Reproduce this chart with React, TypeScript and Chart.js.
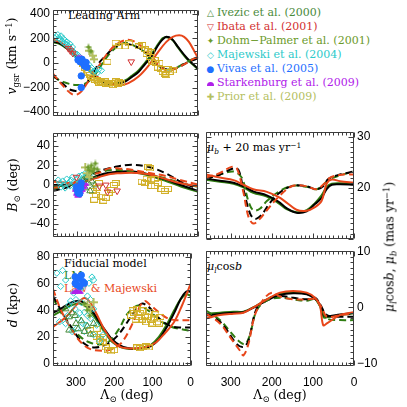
import React, { useEffect, useRef } from "react";
import { Chart, registerables } from "chart.js";
Chart.register(...registerables);

type P = [number, number][];

// ---------------- Panel: v_gsr (km/s) vs Lambda ----------------
const vBlackSolid: P = [[360,175],[343,160],[327,125],[310,80],[294,30],[278,-30],[262,-85],[246,-130],[229,-162],[213,-172],[197,-168],[180,-150],[165,-115],[148,-73],[132,-10],[116,50],[104,120],[95,165],[87,195],[79,213],[65,195],[51,135],[27,37],[0,-48]];
const vGreenSolid: P = [[360,170],[343,155],[327,120],[310,75],[294,25],[278,-35],[262,-90],[246,-135],[229,-165],[213,-170],[197,-160],[180,-140],[165,-105],[148,-60],[132,0],[116,70],[104,130],[95,175],[87,205],[75,208],[63,185],[51,130],[27,30],[0,-52]];
const vRedSolid: P = [[360,189],[343,172],[327,135],[310,86],[294,37],[278,-24],[262,-73],[246,-122],[229,-154],[213,-172],[197,-184],[173,-164],[148,-110],[124,-25],[100,86],[79,172],[63,213],[47,225],[35,213],[23,172],[10,98],[0,37]];
const vBlackDashed: P = [[360,-98],[335,-172],[315,-220],[294,-220],[270,-135],[246,0],[229,61],[205,135],[185,159],[165,147],[140,110],[120,49],[100,-24],[83,-49],[63,-49],[43,-24],[23,12],[0,37]];
const vRedDashed: P = [[360,-86],[339,-172],[311,-257],[294,-245],[274,-159],[254,-61],[229,61],[205,147],[177,189],[156,172],[132,110],[112,37],[92,-37],[75,-61],[59,-49],[35,-12],[10,37],[0,49]];
const vGreenDashed: P = [[360,-110],[335,-154],[302,-179],[278,-164],[254,-86],[229,37],[205,123],[181,164],[156,135],[132,86],[108,0],[83,-49],[63,-49],[39,-12],[10,37],[0,45]];

const vMajewski: P = [[355,200],[352,215],[348,230],[345,205],[342,190],[340,220],[337,175],[335,200],[332,160],[330,185],[327,150],[325,170],[322,140],[320,125],[318,155],[315,110],[312,130],[310,95],[306,80],[303,60],[300,70],[297,40],[294,50],[290,20],[286,0],[283,15],[280,-20],[276,-30],[272,-10],[268,-50],[264,-40],[260,-70],[255,-60],[250,-80],[246,-50],[240,-60]];
const vIbata: P = [[322,120],[317,100],[311,80],[166,10]];
const vDohm: P = [[272,130],[266,95]];
const vPrior: P = [[270,100],[262,60],[258,30]];
const vVivas: P = [[298,25],[293,10],[288,30],[285,-5],[282,-25],[278,5],[276,-35],[290,-105],[290,-200]];
const vStark: P = [[296,35],[294,45],[290,28]];
const vSquares: P = [[285,-10],[280,-40],[276,-60],[272,-80],[268,-95],[265,-110],[260,-120],[256,-135],[252,-140],[248,-150],[245,-160],[240,-155],[236,-165],[232,-150],[228,-170],[224,-160],[220,-175],[216,-165],[212,-180],[208,-160],[204,-150],[200,-170],[196,-155],[192,-165],[225,10],[205,165],[197,135],[182,135],[171,160],[148,135],[139,147],[132,110],[128,74],[124,98],[120,49],[116,86],[114,12],[108,25],[104,0],[100,-37],[96,0],[92,-49],[88,-73],[83,-86],[79,-98],[75,-49],[71,-73],[63,-61]];

// ---------------- Panel: B (deg) ----------------
const bBlackSolid: P = [[360,0],[330,0],[302,2],[270,6],[246,10],[221,12.5],[197,13.5],[165,14],[124,11],[83,6],[43,0],[0,-6]];
const bGreenSolid: P = [[360,-1],[330,-1],[302,1],[270,5],[246,9],[221,11.5],[197,12.5],[165,13],[124,10],[83,4.5],[43,-1.5],[0,-7]];
const bRedSolid: P = [[360,3.4],[330,2.5],[302,1.8],[270,5],[246,8],[221,11],[197,12],[165,12.5],[124,11],[83,6.4],[43,1.8],[0,-1.2]];
const bBlackDashed: P = [[360,-6],[330,-3],[302,1],[275,8],[246,14],[205,18.6],[165,20.7],[124,18.6],[83,12.5],[43,3.3],[0,-4]];
const bRedDashed: P = [[360,-3],[330,-1],[300,4],[270,10],[246,12.5],[221,17],[197,17],[165,15.5],[124,12.5],[83,9.4],[43,4.9],[0,0.3]];
const bGreenDashed: P = [[360,-4],[330,-1],[300,4],[270,10],[245,13],[221,15],[197,15.3],[165,14],[124,11],[83,7],[43,2],[0,-2]];

const bMajewski: P = [[347,5],[343,2],[340,-2],[336,4],[333,0],[330,-3],[326,6],[322,2],[318,-1],[315,5],[312,8],[308,3],[304,-4],[300,6],[296,9],[292,4],[288,10],[284,7],[280,12],[276,9],[272,14],[268,11]];
const bVivas: P = [[302,-2],[300,-5],[298,-8],[296,-4],[294,-9],[291,-3],[290,2]];
const bStark: P = [[304,-6],[301,-10],[298,-12],[295,-10],[292,-8],[288,-6],[284,-3],[280,0]];
const bDohm: P = [[273,18],[270,15],[265,20],[262,14],[258,17],[255,22],[250,16]];
const bIvezic: P = [[285,5],[280,-3],[276,8],[272,2],[268,-6],[264,4],[260,10],[256,0]];
const bPrior: P = [[280,18],[275,12],[270,8],[266,15]];
const bIbata: P = [[302,8],[245,-1],[229,0],[225,-7],[201,-6]];
const bSquares: P = [[262,-6],[258,-15],[254,-10],[250,-3],[246,2],[240,-12],[235,-16],[229,-13],[222,-8],[215,-5],[209,0],[205,2],[140,3.5],[132,2],[124,18.6],[120,17],[116,5],[128,6.4],[108,6],[100,2],[108,-1],[91,-4],[83,-6],[75,-4],[116,-1]];

// ---------------- Panel: d (kpc) ----------------
const dBlackSolid: P = [[360,38],[335,42],[310,46],[290,47],[270,44],[254,38],[238,31],[221,24],[205,18],[185,13.5],[165,11.5],[144,11],[124,11.5],[104,13],[83,18],[63,27],[43,38],[27,48],[12,54],[0,54]];
const dGreenSolid: P = [[360,36],[335,40],[310,44],[290,45],[270,42],[254,36],[238,29],[221,22],[205,16],[185,12.5],[165,11],[144,11],[124,12],[104,14],[83,20],[63,29],[43,40],[27,48],[12,52],[0,51]];
const dRedSolid: P = [[360,27.4],[327,34.7],[294,45.6],[278,49.2],[262,45.6],[246,37.2],[225,25.1],[205,16.7],[185,12.4],[165,11.4],[140,11.4],[117,12.4],[92,15.5],[67,22.8],[43,31.3],[23,43.4],[0,60]];
const dBlackDashed: P = [[360,50.7],[335,38],[310,26.3],[286,16.7],[262,12.4],[238,12.4],[213,15.5],[189,21.6],[165,31.3],[145,40],[128,45],[112,43],[95,38],[75,32],[51,28],[27,27],[0,27]];
const dRedDashed: P = [[360,56],[339,40],[310,25],[286,15.5],[262,10.7],[229,9.5],[205,10.7],[181,15.5],[156,27.6],[132,43.4],[120,47],[108,44.6],[83,38.5],[59,33.7],[35,32.5],[0,32.5]];
const dGreenDashed: P = [[360,49],[335,36.4],[310,26.7],[286,19.4],[262,15.5],[238,14.3],[213,16.7],[189,25.2],[165,37.4],[140,43.4],[124,42.2],[100,37.4],[75,31.3],[51,27.6],[27,25.9],[0,24.5]];

const dMajewski: P = [[335,70],[327,62.8],[258,65],[254,62.8],[343,31.3],[327,30],[302,41],[294,33.7],[286,45.8],[278,38.5],[274,28.8],[270,50.7],[262,33.7],[254,41],[246,28.8],[238,16.7],[229,21.6],[306,53],[314,47],[290,55.5],[282,58],[298,26.4],[310,24],[266,60.4],[278,24],[254,21.6],[318,44],[322,36],[300,48],[290,38],[282,30],[270,36],[262,48],[350,68],[340,58]];
const dVivas: P = [[302,65.2],[294,64],[286,66.4],[282,61.6],[298,59.2],[302,60.4],[290,57.9],[278,60.4]];
const dStark: P = [[298,54.3],[290,53.1],[304,53]];
const dIvezic: P = [[327,41],[318,35],[310,38],[300,30],[294,26],[286,32],[278,24],[270,28],[262,22],[254,30],[318,25],[302,36]];
const dDohm: P = [[278,45],[270,40],[264,36]];
const dPrior: P = [[262,41],[254,46],[270,44]];
const dSquares: P = [[262,25],[254,22],[246,20],[238,17],[230,15],[222,12],[215,10],[208,9],[200,10],[246,26],[236,18],[228,20],[140,12],[132,11.5],[124,12.5],[116,13],[110,12],[156,36],[152,40],[148,38],[144,33],[140,41],[136,35],[132,38],[128,33],[124,40],[120,36],[116,31],[112,35],[108,39],[104,33],[100,30],[96,34],[92,37],[88,31],[83,30],[79,35]];

// ---------------- Panel: mu_b + 20 ----------------
const mbBlackSolid: P = [[360,21.8],[326,21.4],[293,21],[269,20.3],[245,19.3],[212,18.5],[184,17.3],[164,16],[140,15.1],[115,15.4],[95,16.8],[79,18],[66,19.8],[54,20.6],[34,20.7],[0,20.6]];
const mbGreenSolid: P = [[360,21.6],[326,21.2],[293,20.8],[269,20.1],[245,19],[212,18.3],[184,17],[164,15.8],[140,15.2],[115,15.6],[95,17],[79,18.5],[66,20.2],[54,20.8],[34,20.9],[0,20.8]];
const mbRedSolid: P = [[360,22.6],[326,22],[293,21.5],[269,20.6],[245,19.7],[212,19.2],[184,18.2],[164,17.1],[140,15.7],[115,15.5],[95,16.2],[79,17.4],[66,20.9],[54,21.6],[34,21.3],[0,21]];
const mbBlackDashed: P = [[360,21.75],[326,22.6],[293,23.8],[281,23.5],[269,19.7],[253,15],[241,13.9],[225,14.7],[204,17.1],[180,19.1],[148,20.4],[115,20.3],[91,19.7],[75,20.3],[62,21.75],[34,22.6],[0,23.2]];
const mbRedDashed: P = [[360,22],[326,22.9],[298,24.1],[285,23.8],[269,19.1],[257,14.4],[245,13],[229,13.9],[212,15.6],[180,18.5],[148,20.4],[115,20.3],[91,19.7],[75,20.6],[58,22],[26,22.6],[0,22.6]];
const mbGreenDashed: P = [[360,21.75],[326,22.6],[293,23.2],[273,22],[257,17.4],[245,15.6],[229,15.9],[212,17.4],[180,19.4],[148,20.4],[115,20.2],[91,19.7],[75,20.6],[50,22],[0,23.2]];

// ---------------- Panel: mu_l cos b ----------------
const mlBlackSolid: P = [[360,-1.5],[326,-1.2],[293,-1],[269,-0.9],[237,0.2],[212,1.2],[180,2.2],[148,2.5],[115,2.3],[95,1.5],[83,0.5],[74,-1.5],[66,-1.6],[34,-1.3],[0,-1]];
const mlGreenSolid: P = [[360,-1.2],[326,-1],[293,-0.8],[269,-0.8],[237,0.3],[212,1.4],[180,2.4],[148,2.7],[115,2.4],[95,1.5],[83,0.3],[74,-1.8],[66,-1.8],[34,-1.4],[0,-1.1]];
const mlRedSolid: P = [[360,-2],[326,-1.4],[293,-1.15],[269,-1],[237,0.3],[212,1.4],[180,2.6],[148,2.9],[115,2.6],[95,1.7],[83,0.3],[75,-3.2],[66,-2.9],[34,-1.4],[0,-0.9]];
const mlBlackDashed: P = [[360,-1.15],[326,-2.6],[310,-4],[285,-6.6],[269,-7.1],[257,-6],[237,-0.3],[212,1.4],[180,2],[148,1.7],[115,1.4],[95,1.7],[83,0.6],[66,-1.4],[34,-1.7],[0,-1.7]];
const mlRedDashed: P = [[360,-1.15],[326,-2.9],[298,-5.7],[277,-7.8],[269,-8.6],[257,-6.6],[241,-1.4],[220,1.4],[200,2.6],[180,1.9],[148,1.4],[115,1.4],[95,1.4],[79,0],[66,-1.7],[34,-1.4],[0,-1.15]];
const mlGreenDashed: P = [[360,-0.6],[326,-2.3],[302,-4.3],[281,-6],[265,-6.6],[253,-4.9],[237,-0.6],[212,1.2],[180,1.7],[148,1.4],[115,1.15],[95,1.4],[79,-0.3],[66,-2],[34,-2.3],[0,-2.3]];

// ---------------- Axis ticks ----------------
const lambdaRange = [0, 360];
const lambdaTickStep = 100;

const BLACK = "#000000";
const GREEN = "#2f7d12";
const RED = "#e8461a";
const C_IVEZIC = "#4a8a3a";
const C_IBATA = "#d23030";
const C_DOHM = "#6b9a2a";
const C_MAJ = "#2ccaca";
const C_VIVAS = "#1f6fff";
const C_STARK = "#b020ea";
const C_PRIOR = "#b4c060";
const C_SQ = "#d2b028";

const fmt = (v: any) => {
  const n = Number(v);
  return n < 0 ? "\u2212" + Math.abs(n) : String(n);
};

const idlFrame = {
  id: "idlFrame",
  afterDatasetsDraw(chart: any, _args: any, o: any) {
    const { ctx, chartArea: a } = chart;
    const xs = chart.scales.x;
    const ys = chart.scales.y;
    const L = Math.round(a.left) + 0.5;
    const R = Math.round(a.right) - 0.5;
    const T = Math.round(a.top) + 0.5;
    const B = Math.round(a.bottom) - 0.5;
    ctx.save();
    ctx.strokeStyle = "#3c3c3c";
    ctx.lineWidth = 1;
    ctx.beginPath();
    ctx.rect(L, T, R - L, B - T);
    const isMajor = (v: number, m: number) => Math.abs(v / m - Math.round(v / m)) < 1e-6;
    const k0x = Math.ceil(xs.min / o.xMinor - 1e-9);
    const k1x = Math.floor(xs.max / o.xMinor + 1e-9);
    for (let k = k0x; k <= k1x; k++) {
      const v = k * o.xMinor;
      const px = Math.round(xs.getPixelForValue(v)) + 0.5;
      const len = isMajor(v, o.xMajor) ? 5 : 3;
      ctx.moveTo(px, B); ctx.lineTo(px, B - len);
      ctx.moveTo(px, T); ctx.lineTo(px, T + len);
    }
    const k0y = Math.ceil(ys.min / o.yMinor - 1e-9);
    const k1y = Math.floor(ys.max / o.yMinor + 1e-9);
    for (let k = k0y; k <= k1y; k++) {
      const v = k * o.yMinor;
      const py = Math.round(ys.getPixelForValue(v)) + 0.5;
      const len = isMajor(v, o.yMajor) ? 5 : 3;
      ctx.moveTo(L, py); ctx.lineTo(L + len, py);
      ctx.moveTo(R, py); ctx.lineTo(R - len, py);
    }
    ctx.stroke();
    ctx.restore();
  },
};

function toXY(p: P) {
  return p.map(([x, y]) => ({ x, y }));
}

function curve(p: P, color: string, dashed: boolean) {
  return {
    data: toXY(p),
    showLine: true,
    borderColor: color,
    backgroundColor: color,
    borderWidth: 2,
    borderDash: dashed ? [7, 4] : [],
    pointRadius: 0,
    pointHoverRadius: 0,
    tension: 0.35,
    fill: false,
  };
}

function marks(p: P, style: any, color: string, filled: boolean, radius = 3.5, rotation = 0) {
  return {
    data: toXY(p),
    showLine: false,
    pointStyle: style,
    pointRadius: radius,
    pointHoverRadius: radius,
    pointRotation: rotation,
    borderColor: color,
    backgroundColor: filled ? color : "rgba(0,0,0,0)",
    borderWidth: 1,
  };
}

function mkCanvas(w: number, h: number, draw: (g: CanvasRenderingContext2D) => void) {
  const c = document.createElement("canvas");
  c.width = w;
  c.height = h;
  const g = c.getContext("2d")!;
  draw(g);
  return c;
}

type Spec = {
  left: number; top: number; width: number; height: number;
  pad: { top: number; right: number; bottom: number; left: number };
  xLabels: boolean; xAxisH: number;
  yPos: "left" | "right"; yMin: number; yMax: number; yStep: number; yMinor: number;
  hide?: number[];
  datasets: any[];
};

function Panel({ spec }: { spec: Spec }) {
  const ref = useRef<HTMLCanvasElement>(null);
  useEffect(() => {
    const cv = ref.current!;
    const tickFont = { family: "'Liberation Sans', Arial, sans-serif", size: 12 };
    const chart = new Chart(cv, {
      type: "scatter",
      data: { datasets: spec.datasets },
      options: {
        responsive: false,
        animation: false,
        devicePixelRatio: 1,
        events: [],
        layout: { padding: spec.pad },
        plugins: {
          legend: { display: false },
          tooltip: { enabled: false },
          idlFrame: { xMinor: 10, xMajor: lambdaTickStep, yMinor: spec.yMinor, yMajor: spec.yStep },
        } as any,
        scales: {
          x: {
            type: "linear",
            min: lambdaRange[0],
            max: lambdaRange[1],
            reverse: true,
            display: spec.xLabels,
            grid: { display: false, drawTicks: false },
            border: { display: false },
            ticks: {
              stepSize: lambdaTickStep,
              includeBounds: false,
              autoSkip: false,
              maxRotation: 0,
              padding: 9,
              color: "#000",
              font: tickFont,
              callback: fmt,
            },
            afterFit: (s: any) => { s.height = spec.xAxisH; },
          },
          y: {
            type: "linear",
            position: spec.yPos,
            min: spec.yMin,
            max: spec.yMax,
            grid: { display: false, drawTicks: false },
            border: { display: false },
            ticks: {
              stepSize: spec.yStep,
              includeBounds: false,
              autoSkip: false,
              padding: 3,
              color: "#000",
              font: tickFont,
              callback: (v: any) => (spec.hide && spec.hide.includes(Number(v)) ? "" : fmt(v)),
            },
            afterFit: (s: any) => { s.width = 53; },
          },
        } as any,
      },
      plugins: [idlFrame as any],
    });
    return () => chart.destroy();
  }, [spec]);
  return (
    <canvas
      ref={ref}
      width={spec.width}
      height={spec.height}
      style={{ position: "absolute", left: spec.left, top: spec.top, width: spec.width, height: spec.height }}
    />
  );
}

const serif = "'DejaVu Serif', 'Liberation Serif', serif";

const Sub = ({ children }: any) => (
  <span style={{ fontSize: "0.68em", position: "relative", top: "0.35em" }}>{children}</span>
);
const Sup = ({ children }: any) => (
  <span style={{ fontSize: "0.68em", position: "relative", top: "-0.45em" }}>{children}</span>
);

function Label({ x, y, color = "#000", size = 11, children }: any) {
  return (
    <div style={{ position: "absolute", left: x, top: y - 7, lineHeight: "14px", font: `${size}px ${serif}`, color, whiteSpace: "nowrap" }}>
      {children}
    </div>
  );
}

function VTitle({ x, y, children }: any) {
  return (
    <div style={{ position: "absolute", left: x, top: y, transform: "translate(-50%,-50%) rotate(-90deg)", font: `12.5px ${serif}`, lineHeight: "14px", whiteSpace: "nowrap", color: "#000" }}>
      {children}
    </div>
  );
}

const legendItems: { sym: string; color: string; text: string }[] = [
  { sym: "\u25B3", color: C_IVEZIC, text: "Ivezic et al. (2000)" },
  { sym: "\u25BD", color: C_IBATA, text: "Ibata et al. (2001)" },
  { sym: "\u2726", color: C_DOHM, text: "Dohm\u2212Palmer et al. (2001)" },
  { sym: "\u25C7", color: C_MAJ, text: "Majewski et al. (2004)" },
  { sym: "\u25CF", color: C_VIVAS, text: "Vivas et al. (2005)" },
  { sym: "", color: C_STARK, text: "Starkenburg et al. (2009)" },
  { sym: "\u271A", color: C_PRIOR, text: "Prior et al. (2009)" },
];

export default function App() {
  const specs = React.useMemo(() => {
    const star = mkCanvas(8, 8, (g) => {
      g.fillStyle = C_DOHM;
      g.beginPath();
      g.moveTo(4, 0); g.lineTo(5, 3); g.lineTo(8, 4); g.lineTo(5, 5); g.lineTo(4, 8); g.lineTo(3, 5); g.lineTo(0, 4); g.lineTo(3, 3);
      g.closePath(); g.fill();
    });
    const half = mkCanvas(8, 8, (g) => {
      g.fillStyle = C_STARK;
      g.beginPath();
      g.arc(4, 5, 3.6, Math.PI, 2 * Math.PI);
      g.closePath(); g.fill();
    });
    const plus = mkCanvas(8, 8, (g) => {
      g.strokeStyle = C_PRIOR; g.lineWidth = 2;
      g.beginPath(); g.moveTo(4, 0); g.lineTo(4, 8); g.moveTo(0, 4); g.lineTo(8, 4); g.stroke();
    });
    const sq = mkCanvas(8, 6, (g) => {
      g.strokeStyle = C_SQ; g.lineWidth = 1;
      g.strokeRect(0.5, 0.5, 7, 5);
    });
    const curves = (bs: P, gs: P, rs: P, bd: P, gd: P, rd: P) => [
      curve(rs, RED, false),
      curve(rd, RED, true),
      curve(bd, BLACK, true),
      curve(gd, GREEN, true),
      curve(bs, BLACK, false),
      curve(gs, GREEN, false),
    ];
    const obs = (o: { iv?: P; ib?: P; dp?: P; mj?: P; vv?: P; st?: P; pr?: P; sqs?: P }) => {
      const out: any[] = [];
      if (o.vv) out.push(marks(o.vv, "circle", C_VIVAS, true, 3.2));
      if (o.st) out.push(marks(o.st, half, C_STARK, true));
      if (o.ib) out.push(marks(o.ib, "triangle", C_IBATA, false, 3.8, 180));
      if (o.dp) out.push(marks(o.dp, star, C_DOHM, true));
      if (o.pr) out.push(marks(o.pr, plus, C_PRIOR, true));
      if (o.iv) out.push(marks(o.iv, "triangle", C_IVEZIC, false, 3.8));
      if (o.mj) out.push(marks(o.mj, "rectRot", C_MAJ, false, 3.2));
      if (o.sqs) out.push(marks(o.sqs, sq, C_SQ, false));
      return out;
    };
    const s: Spec[] = [
      {
        left: 0, top: 0, width: 203, height: 126, pad: { top: 6, right: 2, bottom: 2, left: 0 },
        xLabels: false, xAxisH: 0, yPos: "left", yMin: -430, yMax: 430, yStep: 200, yMinor: 50,
        datasets: [...obs({ vv: vVivas, st: vStark, ib: vIbata, dp: vDohm, pr: vPrior, mj: vMajewski, sqs: vSquares }),
          ...curves(vBlackSolid, vGreenSolid, vRedSolid, vBlackDashed, vGreenDashed, vRedDashed)],
      },
      {
        left: 0, top: 123, width: 203, height: 124, pad: { top: 6, right: 2, bottom: 2, left: 0 },
        xLabels: false, xAxisH: 0, yPos: "left", yMin: -53, yMax: 53, yStep: 20, yMinor: 5,
        datasets: [...obs({ vv: bVivas, st: bStark, ib: bIbata, dp: bDohm, pr: bPrior, iv: bIvezic, mj: bMajewski, sqs: bSquares }),
          ...curves(bBlackSolid, bGreenSolid, bRedSolid, bBlackDashed, bGreenDashed, bRedDashed)],
      },
      {
        left: 0, top: 243, width: 203, height: 164, pad: { top: 6, right: 2, bottom: 0, left: 0 },
        xLabels: true, xAxisH: 41, yPos: "left", yMin: -2, yMax: 83, yStep: 20, yMinor: 5,
        datasets: [...obs({ vv: dVivas, st: dStark, dp: dDohm, pr: dPrior, iv: dIvezic, mj: dMajewski, sqs: dSquares }),
          ...curves(dBlackSolid, dGreenSolid, dRedSolid, dBlackDashed, dGreenDashed, dRedDashed)],
      },
      {
        left: 200, top: 122, width: 207, height: 127, pad: { top: 6, right: 0, bottom: 2, left: 6 },
        xLabels: false, xAxisH: 0, yPos: "right", yMin: 10, yMax: 30.9, yStep: 10, yMinor: 1, hide: [10],
        datasets: curves(mbBlackSolid, mbGreenSolid, mbRedSolid, mbBlackDashed, mbGreenDashed, mbRedDashed),
      },
      {
        left: 200, top: 241, width: 207, height: 166, pad: { top: 6, right: 0, bottom: 0, left: 6 },
        xLabels: true, xAxisH: 41, yPos: "right", yMin: -10.5, yMax: 10, yStep: 10, yMinor: 1,
        datasets: curves(mlBlackSolid, mlGreenSolid, mlRedSolid, mlBlackDashed, mlGreenDashed, mlRedDashed),
      },
    ];
    return s;
  }, []);

  return (
    <div style={{ position: "fixed", left: 0, top: 0, width: 407, height: 407, background: "#fff", overflow: "hidden" }}>
      {/* annotations (drawn below the data) */}
      <Label x={68} y={16}>Leading Arm</Label>
      <Label x={64} y={264}>Fiducial model</Label>
      <Label x={64} y={276} color={GREEN}>LM</Label>
      <Label x={64} y={289} color={RED}>Law &amp; Majewski</Label>
      <Label x={207} y={148}>
        <i>{"\u03BC"}</i><Sub><i>b</i></Sub> + 20 mas yr<Sup>{"\u22121"}</Sup>
      </Label>
      <Label x={207} y={267}>
        <i>{"\u03BC"}</i><Sub><i>l</i></Sub>cos<i>b</i>
      </Label>

      {legendItems.map((it, i) => (
        <div key={i} style={{ position: "absolute", left: 204, top: 13 + 14 * i - 7, lineHeight: "14px", whiteSpace: "nowrap", color: it.color, font: `11px ${serif}` }}>
          <span style={{ display: "inline-block", width: 13, textAlign: "center", fontSize: 9, fontFamily: "'DejaVu Sans', sans-serif" }}>
            {it.sym === "" ? (
              <span style={{ display: "inline-block", width: 7, height: 4, borderRadius: "4px 4px 0 0", background: it.color, verticalAlign: "middle" }} />
            ) : it.sym}
          </span>
          {it.text}
        </div>
      ))}

      {specs.map((s, i) => <Panel key={i} spec={s} />)}

      <VTitle x={12} y={56}>
        <i>v</i><Sub>gsr</Sub> (km s<Sup>{"\u22121"}</Sup>)
      </VTitle>
      <VTitle x={13} y={185}>
        <i>B</i><Sub>{"\u2299"}</Sub> (deg)
      </VTitle>
      <VTitle x={13} y={305}>
        <i>d</i> (kpc)
      </VTitle>
      <VTitle x={390} y={247}>
        <i>{"\u03BC"}</i><Sub><i>l</i></Sub>cos<i>b</i>, <i>{"\u03BC"}</i><Sub><i>b</i></Sub> (mas yr<Sup>{"\u22121"}</Sup>)
      </VTitle>
      <div style={{ position: "absolute", left: 127, top: 394, transform: "translate(-50%,-50%)", font: `12.5px ${serif}`, whiteSpace: "nowrap" }}>
        {"\u039B"}<Sub>{"\u2299"}</Sub> (deg)
      </div>
      <div style={{ position: "absolute", left: 280, top: 394, transform: "translate(-50%,-50%)", font: `12.5px ${serif}`, whiteSpace: "nowrap" }}>
        {"\u039B"}<Sub>{"\u2299"}</Sub> (deg)
      </div>
    </div>
  );
}
